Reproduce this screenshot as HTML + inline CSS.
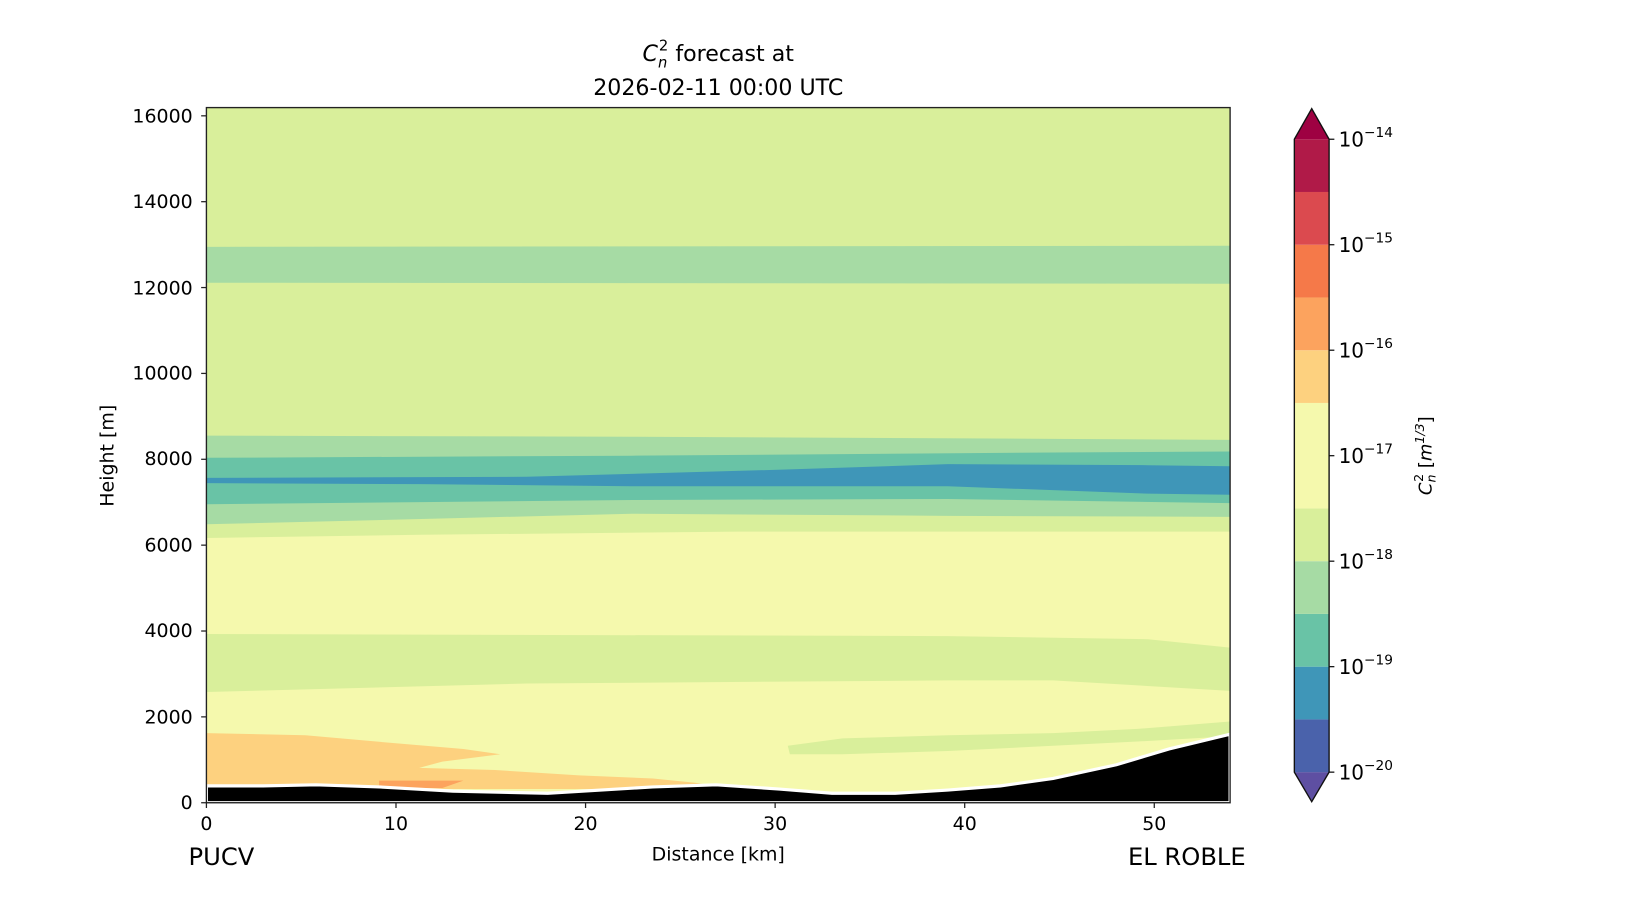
<!DOCTYPE html>
<html><head><meta charset="utf-8"><style>
html,body{margin:0;padding:0;background:#fff;}
svg{display:block;}
text{font-family:"DejaVu Sans","Liberation Sans",sans-serif;fill:#000;}
</style></head><body>
<svg width="1650" height="900" viewBox="0 0 1566.7 853.2" preserveAspectRatio="none" xmlns="http://www.w3.org/2000/svg">
<defs><clipPath id="pc"><rect x="196" y="102" width="972" height="659"/></clipPath></defs>
<g clip-path="url(#pc)">
<rect x="196" y="102" width="972" height="659" fill="#d9ef9b"/>
<polygon points="196,234 1168,233 1168,269 196,268" fill="#a6dba4"/>
<polygon points="196,413 600,414 1000,416 1168,417 1168,490 900,489 600,487 400,492 196,497" fill="#a6dba4"/>
<polygon points="196,434 600,432 1000,429 1168,428 1168,477 900,473 600,474 400,476 196,478" fill="#69c3a6"/>
<polygon points="196,453 500,452 750,445 900,440 1090,441 1168,442 1168,469 1090,468 900,461 600,461 400,459 196,458" fill="#3f96b8"/>
<polygon points="196,510 400,507 700,504 1168,504 1168,614 1090,606 900,603 196,601" fill="#f5f9ad"/>
<polygon points="196,656 500,648 900,645 1000,645 1168,655 1168,800 196,800" fill="#f5f9ad"/>
<polygon points="196,695 290,697 380,705 440,710 475,715 420,722 398,728 470,730 550,735 620,738 660,742 700,748 196,748" fill="#fdd17f"/>
<polygon points="360,740 440,740 420,747 360,747" fill="#fca35e"/>
<polygon points="748,707 800,700 900,697 1000,695 1080,691 1168,684 1168,698 1080,703 1000,707 900,712 800,715 750,715" fill="#d9ef9b"/>
<polygon points="196,745 250,745 300,744 360,746 430,750 520,752 620,746 680,744 740,748 790,752 850,752 900,749 950,745 1000,738 1060,725 1110,710 1168,696 1168,761 196,761" fill="#000" stroke="#fff" stroke-width="3"/>
</g>
<rect x="196" y="102" width="972" height="659" fill="none" stroke="#222" stroke-width="1.3"/>
<g stroke="#222" stroke-width="1.2">
<line x1="191" y1="761" x2="196" y2="761"/><line x1="191" y1="679.6" x2="196" y2="679.6"/><line x1="191" y1="598.2" x2="196" y2="598.2"/><line x1="191" y1="516.8" x2="196" y2="516.8"/><line x1="191" y1="435.4" x2="196" y2="435.4"/><line x1="191" y1="354" x2="196" y2="354"/><line x1="191" y1="272.6" x2="196" y2="272.6"/><line x1="191" y1="191.2" x2="196" y2="191.2"/><line x1="191" y1="109.8" x2="196" y2="109.8"/>
<line x1="196" y1="761" x2="196" y2="766"/><line x1="376" y1="761" x2="376" y2="766"/><line x1="556" y1="761" x2="556" y2="766"/><line x1="736" y1="761" x2="736" y2="766"/><line x1="916" y1="761" x2="916" y2="766"/><line x1="1096" y1="761" x2="1096" y2="766"/>
</g>
<g font-size="18" text-anchor="end">
<text x="183" y="767">0</text><text x="183" y="686">2000</text><text x="183" y="604">4000</text><text x="183" y="523">6000</text><text x="183" y="441">8000</text><text x="183" y="360">10000</text><text x="183" y="279">12000</text><text x="183" y="197">14000</text><text x="183" y="116">16000</text>
</g>
<g font-size="18" text-anchor="middle">
<text x="196" y="787">0</text><text x="376" y="787">10</text><text x="556" y="787">20</text><text x="736" y="787">30</text><text x="916" y="787">40</text><text x="1096" y="787">50</text>
</g>
<text x="682" y="816" font-size="18" text-anchor="middle">Distance [km]</text>
<text x="108" y="432" font-size="18" text-anchor="middle" transform="rotate(-90 108 432)">Height [m]</text>
<text x="179" y="820" font-size="23">PUCV</text>
<text x="1071" y="820" font-size="23">EL ROBLE</text>
<text x="682" y="58" font-size="21" text-anchor="middle"><tspan font-style="italic">C</tspan><tspan font-size="14" font-style="italic" dy="6">n</tspan><tspan font-size="14" dx="-8" dy="-16">2</tspan><tspan dy="10"> forecast at</tspan></text>
<text x="682" y="90" font-size="21" text-anchor="middle">2026-02-11 00:00 UTC</text>
<g>
<polygon points="1229,732 1262,732 1245.5,760" fill="#5e4fa2"/>
<rect x="1229" y="682" width="33" height="50" fill="#4a62ab"/>
<rect x="1229" y="632" width="33" height="50" fill="#3f96b8"/>
<rect x="1229" y="582" width="33" height="50" fill="#69c3a6"/>
<rect x="1229" y="532" width="33" height="50" fill="#a6dba4"/>
<rect x="1229" y="482" width="33" height="50" fill="#d9ef9b"/>
<rect x="1229" y="382" width="33" height="100" fill="#f5f9ad"/>
<rect x="1229" y="332" width="33" height="50" fill="#fdd17f"/>
<rect x="1229" y="282" width="33" height="50" fill="#fca35e"/>
<rect x="1229" y="232" width="33" height="50" fill="#f57949"/>
<rect x="1229" y="182" width="33" height="50" fill="#db4a4f"/>
<rect x="1229" y="132" width="33" height="50" fill="#b01a48"/>
<polygon points="1229,132 1262,132 1245.5,103" fill="#9e0142"/>
<polygon points="1229,132 1245.5,103 1262,132 1262,732 1245.5,760 1229,732" fill="none" stroke="#111" stroke-width="1.3"/>
<g stroke="#111" stroke-width="1.2">
<line x1="1262" y1="132" x2="1267" y2="132"/><line x1="1262" y1="232" x2="1267" y2="232"/><line x1="1262" y1="332" x2="1267" y2="332"/><line x1="1262" y1="432" x2="1267" y2="432"/><line x1="1262" y1="532" x2="1267" y2="532"/><line x1="1262" y1="632" x2="1267" y2="632"/><line x1="1262" y1="732" x2="1267" y2="732"/>
</g>
<g font-size="19">
<text x="1271" y="139">10<tspan font-size="13" dy="-9">−14</tspan></text>
<text x="1271" y="239">10<tspan font-size="13" dy="-9">−15</tspan></text>
<text x="1271" y="339">10<tspan font-size="13" dy="-9">−16</tspan></text>
<text x="1271" y="439">10<tspan font-size="13" dy="-9">−17</tspan></text>
<text x="1271" y="539">10<tspan font-size="13" dy="-9">−18</tspan></text>
<text x="1271" y="639">10<tspan font-size="13" dy="-9">−19</tspan></text>
<text x="1271" y="739">10<tspan font-size="13" dy="-9">−20</tspan></text>
</g>
<text x="1359" y="432" font-size="17" text-anchor="middle" transform="rotate(-90 1359 432)"><tspan font-style="italic">C</tspan><tspan font-size="12" font-style="italic" dy="4">n</tspan><tspan font-size="12" dx="-7" dy="-12">2</tspan><tspan dy="8"> [</tspan><tspan font-style="italic">m</tspan><tspan font-size="12" font-style="italic" dy="-7">1/3</tspan><tspan dy="7">]</tspan></text>
</g>
</svg>
</body></html>
